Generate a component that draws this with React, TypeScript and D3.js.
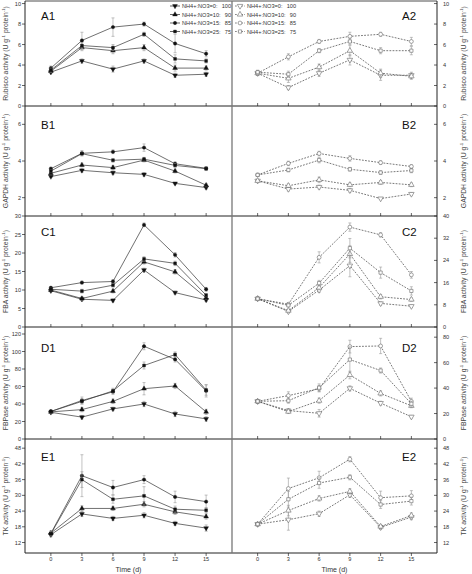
import React from "react";
import * as d3 from "d3";

const days = [0, 3, 6, 9, 12, 15];
const ratioPrefix = ["NH4+:NO3=0:", "NH4+:NO3=10:", "NH4+:NO3=15:", "NH4+:NO3=25:"];
const ratioSuffix = ["100", "90", "85", "75"];
const xTickLabels = ["0", "3", "6", "9", "12", "15"];

// series order: 0:100, 10:90, 15:85, 25:75
const A1Values = [
  [3.3, 4.4, 3.6, 4.4, 3.0, 3.1],
  [3.4, 5.7, 5.4, 5.7, 3.7, 3.7],
  [3.7, 6.4, 7.7, 8.0, 6.1, 5.1],
  [3.5, 5.9, 5.7, 7.0, 4.6, 4.4],
];
const A1Errors = [
  [0.1, 0.2, 0.3, 0.2, 0.2, 0.2],
  [0.1, 0.3, 0.3, 0.3, 0.3, 0.2],
  [0.2, 0.8, 0.9, 0.2, 0.9, 0.3],
  [0.2, 0.3, 0.3, 0.2, 0.4, 0.2],
];
const A2Values = [
  [3.2, 1.8, 3.2, 4.5, 3.0, 3.0],
  [3.2, 2.7, 3.8, 5.4, 3.2, 2.9],
  [3.2, 4.8, 6.3, 6.8, 7.0, 6.3],
  [3.3, 3.1, 5.4, 6.3, 5.4, 5.4],
];
const A2Errors = [
  [0.2, 0.2, 0.3, 0.5, 0.5, 0.3],
  [0.2, 0.4, 0.3, 0.5, 0.4, 0.3],
  [0.2, 0.3, 0.2, 0.4, 0.2, 0.4],
  [0.2, 0.3, 0.2, 0.3, 0.3, 0.4],
];
const B1Values = [
  [3.15, 3.49, 3.36, 3.27, 2.78, 2.55],
  [3.33, 3.78, 3.64, 4.05, 3.45, 2.68],
  [3.58, 4.42, 4.5, 4.73, 3.85, 3.6],
  [3.45, 4.4, 4.04, 4.1, 3.76, 3.58],
];
const B1Errors = [
  [0.05, 0.1, 0.1, 0.1, 0.05, 0.08],
  [0.05, 0.1, 0.1, 0.1, 0.1, 0.08],
  [0.08, 0.15, 0.1, 0.2, 0.1, 0.1],
  [0.08, 0.1, 0.1, 0.1, 0.1, 0.1],
];
const B2Values = [
  [2.92, 2.47, 2.58, 2.4, 1.95, 2.2],
  [2.92, 2.65, 2.97, 2.7, 2.83, 2.7],
  [3.24, 3.87, 4.41, 4.14, 3.91, 3.7],
  [3.24, 3.51, 4.05, 3.55, 3.37, 3.48],
];
const B2Errors = [
  [0.05, 0.1, 0.1, 0.1, 0.05, 0.08],
  [0.05, 0.1, 0.15, 0.1, 0.1, 0.1],
  [0.08, 0.12, 0.12, 0.15, 0.1, 0.1],
  [0.08, 0.1, 0.15, 0.1, 0.1, 0.12],
];
const C1Values = [
  [9.8, 7.5, 7.2, 15.4, 9.3, 7.3],
  [10.0, 7.7, 9.7, 17.6, 14.9, 7.9],
  [10.6, 12.0, 12.3, 27.6, 19.5, 10.2],
  [10.2, 9.7, 11.3, 18.4, 17.2, 8.6],
];
const C1Errors = [
  [0.3, 0.4, 0.4, 0.5, 0.4, 0.4],
  [0.3, 0.5, 0.5, 0.6, 0.6, 0.4],
  [0.3, 0.4, 0.5, 0.5, 0.6, 0.5],
  [0.3, 0.5, 0.5, 0.6, 0.6, 0.4],
];
const C2Values = [
  [10.2, 5.6, 13.3, 22.1, 8.5, 7.5],
  [10.2, 5.9, 14.2, 26.3, 10.9, 9.9],
  [10.2, 8.2, 25.1, 36.0, 33.2, 18.8],
  [10.2, 7.8, 15.8, 28.4, 19.6, 13.0],
];
const C2Errors = [
  [0.4, 0.5, 0.8, 4.0, 0.6, 0.5],
  [0.4, 0.5, 0.8, 3.0, 0.8, 0.6],
  [0.4, 0.6, 2.0, 1.5, 0.8, 1.2],
  [0.4, 0.5, 1.0, 3.5, 2.0, 1.5],
];
const D1Values = [
  [30.5, 25, 34.4, 40, 28.6, 23],
  [31, 33.6, 43, 57.5, 60.6, 31],
  [31.5, 44, 54, 106, 91, 55],
  [31.5, 43, 55, 84, 96.5, 56],
];
const D1Errors = [
  [1.5, 2, 2, 3, 3, 2.5],
  [1.5, 2.5, 2.5, 7, 3, 3],
  [1.5, 4, 3, 4, 3, 7],
  [1.5, 3, 3, 4, 3, 6],
];
const D2Values = [
  [29.6, 22.3, 20.2, 39.8, 28.2, 17.5],
  [29.6, 21.5, 30.1, 50.3, 35.8, 26.1],
  [29.6, 34.1, 39.5, 72.6, 73.1, 29.6],
  [29.6, 30.1, 40.3, 62.4, 53.8, 27.7],
];
const D2Errors = [
  [1, 1.5, 3, 2, 1.5, 1],
  [1, 1.5, 2, 3, 2, 1.5],
  [1, 3, 2.5, 5, 6, 2.5],
  [1, 2, 3, 10, 2, 2],
];
const E1Values = [
  [15.0, 22.9, 21.2, 22.4, 19.3, 17.5],
  [15.6, 25, 25, 26.6, 23.7, 21.9],
  [15.5, 37.5, 33, 36, 29.4, 27.6],
  [15.3, 36, 28.5, 29.8, 24.7, 24.3],
];
const E1Errors = [
  [0.8, 1, 0.8, 1, 0.8, 1.2],
  [0.8, 1, 0.8, 1, 1, 1],
  [0.8, 8, 2.7, 1.5, 2.2, 2.5],
  [0.8, 3, 1.5, 3.5, 1.2, 1],
];
const E2Values = [
  [19, 20.7, 23.0, 30.2, 17.8, 21.7],
  [19, 24.2, 28.8, 31.5, 18.1, 22.3],
  [19, 32.6, 36.7, 43.8, 29.1, 29.8],
  [19, 28.5, 34.7, 36.9, 26.5, 27.8],
];
const E2Errors = [
  [0.5, 4, 1, 1, 0.8, 1],
  [0.5, 2, 1, 1, 0.8, 1],
  [0.5, 4, 2.5, 1, 2.5, 2],
  [0.5, 3, 2, 1, 1.5, 1.5],
];

const yTitles = ["Rubisco activity", "GAPDH  activity", "FBA  activity", "FBPase  activity", "TK  activity"];
const panelLabelsLeft = ["A1", "B1", "C1", "D1", "E1"];
const panelLabelsRight = ["A2", "B2", "C2", "D2", "E2"];
const leftTicks = [
  [0, 2, 4, 6, 8, 10],
  [2, 4, 6],
  [0, 5, 10, 15, 20, 25, 30],
  [0, 20, 40, 60, 80, 100, 120],
  [12, 18, 24, 30, 36, 42, 48],
];
const rightTicks = [
  [0, 2, 4, 6, 8, 10],
  [2, 4, 6],
  [0, 8, 16, 24, 32, 40],
  [0, 20, 40, 60, 80],
  [12, 18, 24, 30, 36, 42, 48],
];
const leftDomains = [[0, 10.25], [1, 7], [0, 30], [0, 128], [8, 51.5]];
const rightDomains = [[0, 10.25], [1, 7], [0, 40], [0, 88], [8, 51.5]];
const leftData = [A1Values, B1Values, C1Values, D1Values, E1Values];
const leftErr = [A1Errors, B1Errors, C1Errors, D1Errors, E1Errors];
const rightData = [A2Values, B2Values, C2Values, D2Values, E2Values];
const rightErr = [A2Errors, B2Errors, C2Errors, D2Errors, E2Errors];

const W = 472, H = 574;
const rowTop = [1, 106, 216, 327, 439];
const rowBot = [106, 216, 327, 439, 553];
const LEFT = 25, MID = 232, RIGHT = 437;
const FONT = "'Liberation Sans', Arial, sans-serif";
const labelBaselines = [19.5, 129, 235.5, 352, 460.5];

const xLeft = d3.scaleLinear().domain([-2.5, 17.5]).range([LEFT, MID]);
const xRight = d3.scaleLinear().domain([-2.5, 17.5]).range([MID, RIGHT]);

const symTypes = [d3.symbolTriangle, d3.symbolTriangle, d3.symbolCircle, d3.symbolSquare];
const symSizes = [10, 10, 9, 8];
const symRot = [180, 0, 0, 0];

function Marker({ i, x, y, open }: { i: number; x: number; y: number; open: boolean }) {
  const d = d3.symbol().type(symTypes[i]).size(symSizes[i] * (open ? 1.3 : 1))() as string;
  return (
    <path
      d={d}
      transform={`translate(${x},${y}) rotate(${symRot[i]})`}
      fill={open ? "#fff" : "#111"}
      stroke={open ? "#666" : "#111"}
      strokeWidth={open ? 0.6 : 0.4}
    />
  );
}

function SeriesGroup({ xs, ys, values, errors, open }: any) {
  const line = d3
    .line<number>()
    .x((_, i) => xs(days[i]))
    .y((v) => ys(v));
  return (
    <g>
      {values.map((vals: number[], si: number) => (
        <g key={si}>
          {vals.map((v, k) => {
            const e = errors[si][k];
            const cx = xs(days[k]);
            return (
              <g key={k} stroke="#999" strokeWidth={0.6}>
                <line x1={cx} x2={cx} y1={ys(v - e)} y2={ys(v + e)} />
                <line x1={cx - 1.5} x2={cx + 1.5} y1={ys(v - e)} y2={ys(v - e)} />
                <line x1={cx - 1.5} x2={cx + 1.5} y1={ys(v + e)} y2={ys(v + e)} />
              </g>
            );
          })}
          <path
            d={line(vals) as string}
            fill="none"
            stroke={open ? "#555" : "#333"}
            strokeWidth={open ? 0.8 : 0.7}
            strokeDasharray={open ? "1.8,1.3" : undefined}
          />
          {vals.map((v, k) => (
            <Marker key={k} i={si} x={xs(days[k])} y={ys(v)} open={open} />
          ))}
        </g>
      ))}
    </g>
  );
}

function YTitle({ text, x, y }: { text: string; x: number; y: number }) {
  return (
    <text
      transform={`translate(${x},${y}) rotate(-90)`}
      textAnchor="middle"
      fontSize={6.8}
      fontFamily={FONT}
      fill="#444"
    >
      {text + " (U g"}
      <tspan fontSize={4.4} dy={-2.7}>-1</tspan>
      <tspan dy={2.7}>{" protein"}</tspan>
      <tspan fontSize={4.4} dy={-2.7}>-1</tspan>
      <tspan dy={2.7}>)</tspan>
    </text>
  );
}

function Legend({ x, open }: { x: number; open: boolean }) {
  const rows = [6, 14.5, 23, 31.5];
  return (
    <g>
      {rows.map((y, i) => (
        <g key={i}>
          <line
            x1={x}
            x2={x + 10}
            y1={y}
            y2={y}
            stroke={open ? "#555" : "#222"}
            strokeWidth={0.7}
            strokeDasharray={open ? "1.8,1.3" : undefined}
          />
          <Marker i={i} x={x + 5} y={y} open={open} />
          <text x={x + 12} y={y + 2} fontSize={5.6} fontFamily={FONT} fill="#333">
            {ratioPrefix[i]}
          </text>
          <text x={x + 61} y={y + 2} fontSize={5.6} fontFamily={FONT} fill="#333" textAnchor="end">
            {ratioSuffix[i]}
          </text>
        </g>
      ))}
    </g>
  );
}

export default function App() {
  return (
    <svg
      width={W}
      height={H}
      style={{ position: "absolute", left: 0, top: 0, background: "#fff" }}
      xmlns="http://www.w3.org/2000/svg"
    >
      <rect x={0} y={0} width={W} height={H} fill="#fff" />
      {rowTop.map((top, r) => {
        const bot = rowBot[r];
        const yl = d3.scaleLinear().domain(leftDomains[r]).range([bot, top]);
        const yr = d3.scaleLinear().domain(rightDomains[r]).range([bot, top]);
        const mid = (top + bot) / 2;
        return (
          <g key={r}>
            {leftTicks[r].map((t) => (
              <g key={"l" + t}>
                <line x1={LEFT - 3} x2={LEFT} y1={yl(t)} y2={yl(t)} stroke="#222" strokeWidth={0.7} />
                <text x={LEFT - 4} y={yl(t) + 2} fontSize={5.6} fontFamily={FONT} textAnchor="end" fill="#333">
                  {t}
                </text>
              </g>
            ))}
            {rightTicks[r].map((t) => (
              <g key={"r" + t}>
                <line x1={RIGHT - 3} x2={RIGHT} y1={yr(t)} y2={yr(t)} stroke="#222" strokeWidth={0.7} />
                <text x={RIGHT + 6} y={yr(t) + 2} fontSize={5.6} fontFamily={FONT} textAnchor="start" fill="#333">
                  {t}
                </text>
              </g>
            ))}
            {days.map((dd) => (
              <g key={"x" + dd}>
                <line
                  x1={xLeft(dd)}
                  x2={xLeft(dd)}
                  y1={r === 4 ? bot : bot - 3}
                  y2={r === 4 ? bot + 3 : bot}
                  stroke="#222"
                  strokeWidth={0.7}
                />
                <line
                  x1={xRight(dd)}
                  x2={xRight(dd)}
                  y1={r === 4 ? bot : bot - 3}
                  y2={r === 4 ? bot + 3 : bot}
                  stroke="#222"
                  strokeWidth={0.7}
                />
              </g>
            ))}
            <YTitle text={yTitles[r]} x={8} y={mid} />
            <YTitle text={yTitles[r]} x={466} y={mid} />
            <text x={41} y={labelBaselines[r]} fontSize={11.5} fontFamily={FONT} fill="#111">
              {panelLabelsLeft[r]}
            </text>
            <text x={402} y={labelBaselines[r]} fontSize={11.5} fontFamily={FONT} fill="#111">
              {panelLabelsRight[r]}
            </text>
            <SeriesGroup xs={xLeft} ys={yl} values={leftData[r]} errors={leftErr[r]} open={false} />
            <SeriesGroup xs={xRight} ys={yr} values={rightData[r]} errors={rightErr[r]} open={true} />
            <line x1={LEFT} x2={RIGHT} y1={bot} y2={bot} stroke="#222" strokeWidth={1} />
          </g>
        );
      })}
      <line x1={LEFT} x2={RIGHT} y1={1} y2={1} stroke="#222" strokeWidth={0.8} />
      <line x1={LEFT} x2={LEFT} y1={1} y2={553} stroke="#222" strokeWidth={1} />
      <line x1={RIGHT} x2={RIGHT} y1={1} y2={553} stroke="#222" strokeWidth={1} />
      <line x1={MID} x2={MID} y1={1} y2={553} stroke="#777" strokeWidth={1.3} />
      <Legend x={170} open={false} />
      <Legend x={235} open={true} />
      {days.map((dd, i) => (
        <g key={"xl" + dd}>
          <text x={xLeft(dd)} y={561} fontSize={5.6} fontFamily={FONT} textAnchor="middle" fill="#333">
            {xTickLabels[i]}
          </text>
          <text x={xRight(dd)} y={561} fontSize={5.6} fontFamily={FONT} textAnchor="middle" fill="#333">
            {xTickLabels[i]}
          </text>
        </g>
      ))}
      <text x={xLeft(7.5)} y={572} fontSize={7} fontFamily={FONT} textAnchor="middle" fill="#333">
        Time (d)
      </text>
      <text x={xRight(7.5)} y={572} fontSize={7} fontFamily={FONT} textAnchor="middle" fill="#333">
        Time (d)
      </text>
    </svg>
  );
}
